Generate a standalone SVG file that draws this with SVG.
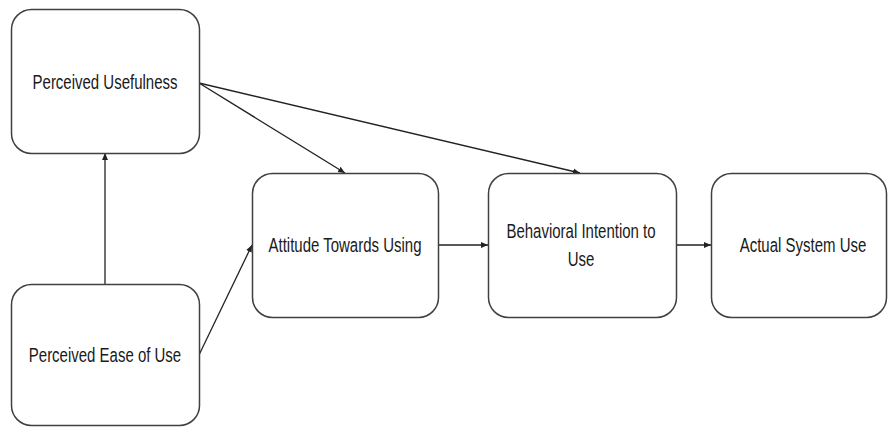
<svg xmlns="http://www.w3.org/2000/svg" width="888" height="427" viewBox="0 0 888 427">
<style>
.box{fill:#fff;stroke:#404040;stroke-width:1.5}
.lbl{font-family:"Liberation Sans",Arial,sans-serif;font-size:15px;fill:#1a1a1a;text-anchor:middle}
.con{stroke:#222;stroke-width:1.3;fill:none;marker-end:url(#ah)}
</style>
<defs>
<marker id="ah" markerWidth="8" markerHeight="8" refX="7" refY="4" orient="auto" markerUnits="userSpaceOnUse">
<path d="M0,1 L7,4 L0,7 Z" fill="#222"/>
</marker>
</defs>
<rect width="888" height="427" fill="#fff"/>
<g id="connectors">
<line class="con" x1="105" y1="284" x2="105" y2="153"/>
<line class="con" x1="199" y1="83" x2="345" y2="173"/>
<line class="con" x1="199" y1="83" x2="580" y2="173"/>
<line class="con" x1="199" y1="355" x2="252" y2="245"/>
<line class="con" x1="438" y1="245" x2="488" y2="245"/>
<line class="con" x1="676" y1="245" x2="711" y2="245"/>
</g>
<g id="pu">
<rect class="box" x="11.5" y="9.5" width="188" height="144" rx="20"/>
<text class="lbl" transform="translate(105,89) scale(1,1.35)">Perceived Usefulness</text>
</g>
<g id="peou">
<rect class="box" x="11.5" y="284.5" width="188" height="141" rx="20"/>
<text class="lbl" transform="translate(105,362) scale(1,1.35)">Perceived Ease of Use</text>
</g>
<g id="att">
<rect class="box" x="252.5" y="173.5" width="186" height="144" rx="20"/>
<text class="lbl" transform="translate(345,252) scale(1,1.35)">Attitude Towards Using</text>
</g>
<g id="bi">
<rect class="box" x="488.5" y="173.5" width="188" height="144" rx="20"/>
<text class="lbl" transform="translate(581,238) scale(1,1.35)">Behavioral Intention to</text>
<text class="lbl" transform="translate(581,266) scale(1,1.35)">Use</text>
</g>
<g id="asu">
<rect class="box" x="711.5" y="173.5" width="175" height="144" rx="20"/>
<text class="lbl" transform="translate(803,252) scale(1,1.35)">Actual System Use</text>
</g>
</svg>
